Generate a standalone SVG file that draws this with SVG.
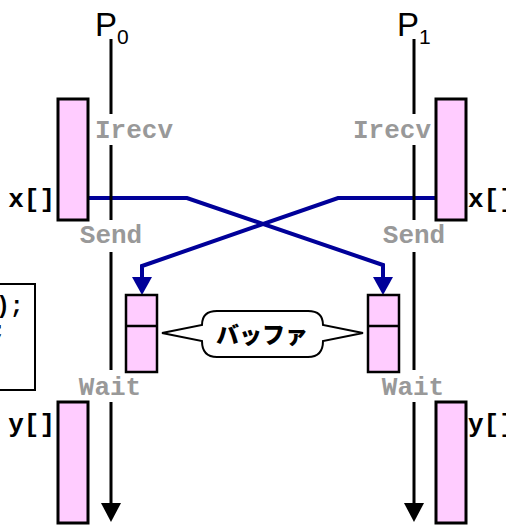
<svg xmlns="http://www.w3.org/2000/svg" width="506" height="525" viewBox="0 0 506 525">
<defs>
<style>
.mem{fill:#ffccff;stroke:#000;stroke-width:3}
.buf{fill:#ffccff;stroke:#000;stroke-width:2.5}
.life{stroke:#000;stroke-width:3;fill:none}
.msg{stroke:#000099;stroke-width:4;fill:none}
.op{font-family:"Liberation Mono","Courier New",monospace;font-weight:bold;font-size:26px;fill:#999999;text-anchor:middle}
.lbl{font-family:"Liberation Mono","Courier New",monospace;font-weight:bold;font-size:26px;fill:#000}
.code{font-family:"Liberation Mono","Courier New",monospace;font-weight:bold;font-size:23px;fill:#000}
.proc{font-family:"Liberation Sans",Arial,sans-serif;font-size:33px;fill:#000}
.sub{font-size:21px}
</style>
</defs>

<g id="connectors">
  <path class="msg" d="M88,198 H187 L383,265 V279"/>
  <polygon points="373,277 393,277 383,295" fill="#000099"/>
  <path class="msg" d="M436,198 H338 L142,266 V279"/>
  <polygon points="132,277 152,277 142,295" fill="#000099"/>
</g>

<g id="code-box">
  <rect x="-200" y="284" width="235" height="106" fill="#fff" stroke="#000" stroke-width="2"/>
  <text class="code" x="-4" y="313">);</text>
  <text class="code" x="-8" y="338">;</text>
</g>

<g id="P0">
  <text class="proc" x="95" y="36">P<tspan class="sub" dy="8">0</tspan></text>
  <path class="life" d="M111,39 V114 M111,145 V220 M111,252 V370 M111,402 V504"/>
  <polygon points="101,503 121,503 111,522" fill="#000"/>
  <text class="op" x="134" y="138">Irecv</text>
  <text class="op" x="111" y="243">Send</text>
  <text class="op" x="110" y="395">Wait</text>
</g>

<g id="P1">
  <text class="proc" x="397" y="36">P<tspan class="sub" dy="8">1</tspan></text>
  <path class="life" d="M414,39 V114 M414,145 V220 M414,252 V370 M414,402 V504"/>
  <polygon points="404,503 424,503 414,522" fill="#000"/>
  <text class="op" x="392" y="138">Irecv</text>
  <text class="op" x="414" y="243">Send</text>
  <text class="op" x="413" y="395">Wait</text>
</g>

<g id="x0">
  <rect class="mem" x="58" y="99" width="30" height="121"/>
  <text class="lbl" x="55" y="207" text-anchor="end">x[]</text>
</g>
<g id="x1">
  <rect class="mem" x="436" y="99" width="30" height="121"/>
  <text class="lbl" x="468" y="207">x[]</text>
</g>
<g id="y0">
  <rect class="mem" x="58" y="402" width="30" height="121"/>
  <text class="lbl" x="55" y="432" text-anchor="end">y[]</text>
</g>
<g id="y1">
  <rect class="mem" x="436" y="402" width="30" height="121"/>
  <text class="lbl" x="468" y="432">y[]</text>
</g>

<g id="buf0">
  <rect class="buf" x="126" y="295" width="31" height="77"/>
  <line x1="126" y1="326" x2="157" y2="326" stroke="#000" stroke-width="2.5"/>
</g>
<g id="buf1">
  <rect class="buf" x="368" y="295" width="31" height="77"/>
  <line x1="368" y1="326" x2="399" y2="326" stroke="#000" stroke-width="2.5"/>
</g>

<g id="callout">
  <path d="M217,311 H308 Q323,311 323,325 L363,333 L323,341 Q323,357 308,357 H217 Q202,357 202,341 L162,333 L202,325 Q202,311 217,311 Z" fill="#fff" stroke="#000" stroke-width="2"/>
  <text x="262" y="343" text-anchor="middle" font-family="'Noto Sans CJK JP',sans-serif" font-weight="900" font-size="23" fill="#000">バッファ</text>
</g>
</svg>
